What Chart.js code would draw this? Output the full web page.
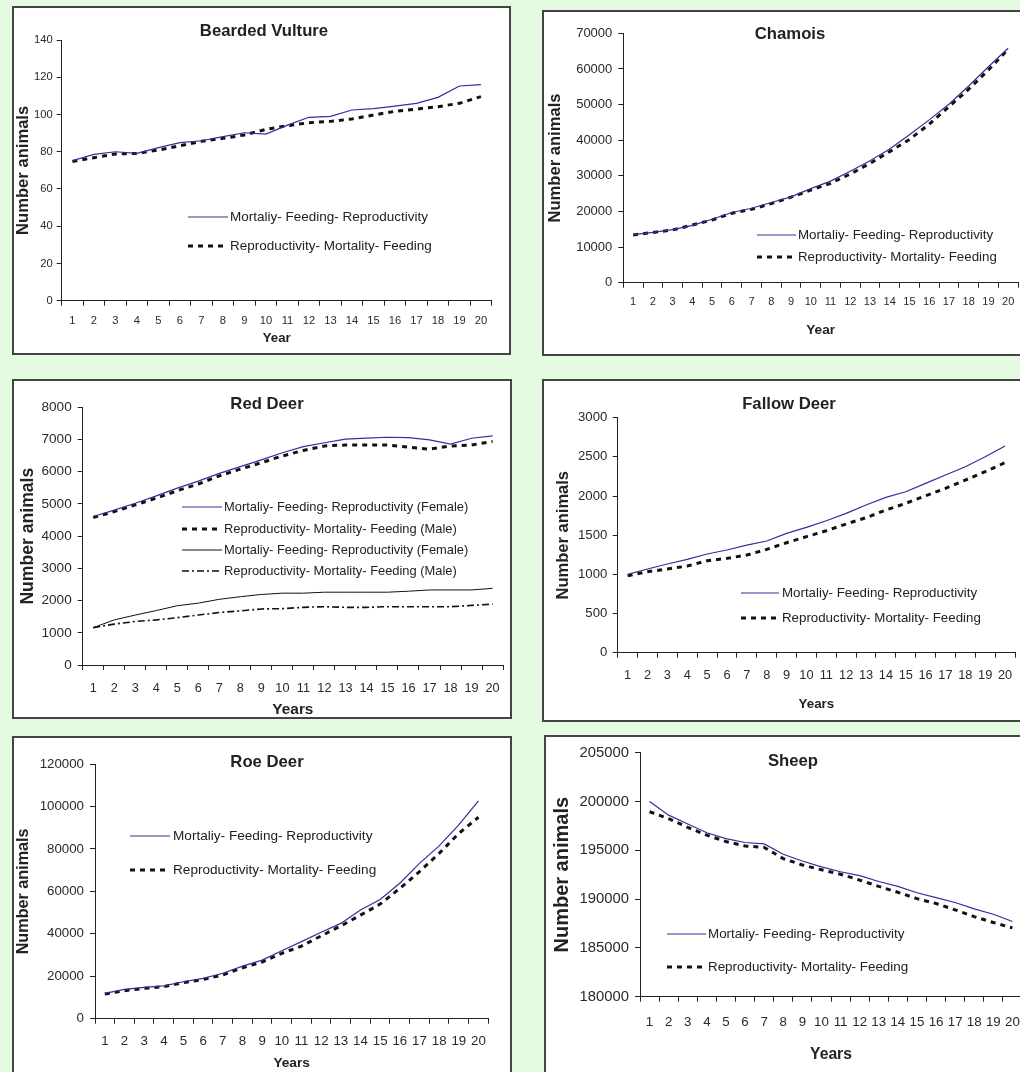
<!DOCTYPE html>
<html>
<head>
<meta charset="utf-8">
<script src="https://cdn.jsdelivr.net/npm/chart.js@4.4.1/dist/chart.umd.min.js"></script>
<style>
  html, body { margin: 0; padding: 0; width: 1020px; height: 1072px; overflow: hidden; background: #e4fbe2; }
  .frame { position: absolute; background: #fff; border: 2px solid #444; box-sizing: border-box; }
  .frame canvas { position: absolute; left: 0; top: 0; }
</style>
</head>
<body>
<script>
// ---- data ----
const years = ['1', '2', '3', '4', '5', '6', '7', '8', '9', '10',
               '11', '12', '13', '14', '15', '16', '17', '18', '19', '20'];

const vultureMfr = [75.2, 78.6, 80.0, 79.1, 82.2, 84.9, 85.9, 88.1, 90.2, 89.5, 94.3, 98.5, 99.0, 102.4, 103.1, 104.5, 106.0, 109.2, 115.3, 116.0];
const vultureRmf = [74.8, 76.8, 78.8, 79.1, 80.9, 83.2, 85.6, 87.2, 89.0, 92.0, 94.0, 95.6, 96.3, 97.6, 99.7, 101.7, 102.9, 104.2, 106.0, 109.6];

const chamoisMfr = [13500, 14100, 14900, 16100, 17800, 19700, 20900, 22500, 24100, 26400, 28500, 31300, 34200, 37500, 41500, 45700, 50100, 55200, 60600, 65800];
const chamoisRmf = [13400, 14100, 14800, 16200, 17600, 19500, 20600, 22200, 24000, 26000, 27900, 30500, 33500, 36800, 40200, 44500, 49400, 54300, 59700, 65500];

const redFemaleMfr = [4610, 4810, 5020, 5250, 5490, 5710, 5950, 6160, 6370, 6590, 6780, 6900, 7010, 7040, 7070, 7060, 6990, 6860, 7040, 7110];
const redMaleRmf = [4580, 4760, 4970, 5180, 5410, 5620, 5870, 6080, 6280, 6490, 6660, 6800, 6830, 6830, 6830, 6760, 6700, 6800, 6830, 6940];
const redFemaleMfr2 = [1160, 1400, 1550, 1690, 1840, 1920, 2040, 2120, 2190, 2230, 2230, 2260, 2260, 2260, 2260, 2290, 2330, 2330, 2330, 2380];
const redMaleRmf2 = [1160, 1270, 1350, 1400, 1470, 1550, 1630, 1680, 1740, 1750, 1790, 1810, 1790, 1790, 1810, 1810, 1810, 1810, 1850, 1890];

const fallowMfr = [1000, 1068, 1132, 1191, 1260, 1311, 1374, 1426, 1523, 1600, 1685, 1779, 1885, 1983, 2055, 2162, 2268, 2374, 2502, 2638];
const fallowRmf = [983, 1034, 1068, 1106, 1174, 1204, 1247, 1319, 1404, 1481, 1557, 1643, 1723, 1821, 1906, 2004, 2098, 2204, 2311, 2426];

const roeMfr = [11900, 13800, 14800, 15500, 17400, 19000, 21400, 24800, 27600, 32000, 36300, 40700, 44900, 51200, 56200, 63800, 73200, 81400, 91300, 102600];
const roeRmf = [11600, 13200, 14300, 15100, 17000, 18500, 20600, 24000, 26700, 30800, 34200, 39000, 43700, 48800, 54000, 61400, 69300, 77900, 87300, 94900];

const sheepMfr = [200000, 198600, 197700, 196800, 196200, 195800, 195650, 194600, 193900, 193300, 192800, 192400, 191800, 191300, 190650, 190150, 189650, 189000, 188450, 187700];
const sheepRmf = [198950, 198250, 197350, 196550, 195900, 195450, 195300, 194150, 193500, 193000, 192550, 191950, 191300, 190700, 190050, 189550, 188900, 188200, 187600, 187050];

const labelMfr = 'Mortaliy- Feeding- Reproductivity';
const labelRmf = 'Reproductivity- Mortality- Feeding';

const FONT = '"Liberation Sans", Arial, Helvetica, sans-serif';
Chart.defaults.font.family = FONT;

// series styles
const blueLine = { borderColor: '#30309a', borderWidth: 1.2 };
const dashLine = { borderColor: '#111', borderWidth: 3, borderDash: [5, 5] };
const thinBlack = { borderColor: '#111', borderWidth: 1 };
const dashDot = { borderColor: '#111', borderWidth: 1.6, borderDash: [7, 3, 2, 3] };

// chart title + legend drawn inside the plot like the original
const panelDecor = {
  id: 'panelDecor',
  afterDraw(chart, args, o) {
    const ctx = chart.ctx;
    ctx.save();
    ctx.fillStyle = '#222';
    ctx.textBaseline = 'middle';
    ctx.textAlign = 'center';
    ctx.font = 'bold ' + o.titleSize + 'px ' + FONT;
    ctx.fillText(o.title, o.titleX, o.titleY);
    ctx.textAlign = 'left';
    ctx.font = o.legendSize + 'px ' + FONT;
    chart.data.datasets.forEach((ds, i) => {
      const y = o.rows[i];
      ctx.beginPath();
      ctx.strokeStyle = ds.borderColor;
      ctx.lineWidth = ds.borderWidth;
      ctx.setLineDash(ds.borderDash || []);
      ctx.moveTo(o.x1, y);
      ctx.lineTo(o.x2, y);
      ctx.stroke();
      ctx.setLineDash([]);
      ctx.fillText(ds.label, o.tx, y);
    });
    ctx.restore();
  }
};

function makePanel(p) {
  const frame = document.createElement('div');
  frame.className = 'frame';
  frame.style.left = p.frame[0] + 'px';
  frame.style.top = p.frame[1] + 'px';
  frame.style.width = p.frame[2] + 'px';
  frame.style.height = p.frame[3] + 'px';
  const canvas = document.createElement('canvas');
  const cw = p.frame[2] - 4, ch = p.frame[3] - 4;
  canvas.width = cw; canvas.height = ch;
  canvas.style.width = cw + 'px'; canvas.style.height = ch + 'px';
  frame.appendChild(canvas);
  document.body.appendChild(frame);

  const ox = p.frame[0] + 2, oy = p.frame[1] + 2;
  const left = p.plot[0] - ox, top = p.plot[1] - oy;
  const right = p.plot[2] - ox, bottom = p.plot[3] - oy;
  const xh = (p.xTitleY - oy) - bottom + p.xTitleSize * 0.6;
  const xPad = (p.xLabelY - oy) - bottom - 5 - p.xTickSize * 0.6;
  const yTitlePad = (p.yTitleX - ox) - p.yTitleSize * 0.6;

  new Chart(canvas, {
    type: 'line',
    data: { labels: years, datasets: p.datasets },
    options: {
      responsive: false,
      animation: false,
      events: [],
      elements: { point: { radius: 0 }, line: { tension: 0, fill: false } },
      layout: { padding: { left: 0, top: top, right: cw - right, bottom: ch - bottom - xh } },
      scales: {
        x: {
          type: 'category',
          offset: true,
          grid: { offset: true, drawOnChartArea: false, drawTicks: true, tickLength: 5, color: '#222' },
          border: { display: true, color: '#222', width: 1 },
          ticks: { autoSkip: false, maxRotation: 0, minRotation: 0, padding: xPad, color: '#2a2a2a',
                   font: { size: p.xTickSize } },
          title: { display: true, text: p.xTitle, color: '#222', padding: 0,
                   font: { size: p.xTitleSize, weight: 'bold' } },
          afterFit: s => { s.height = xh; }
        },
        y: {
          min: p.yMin, max: p.yMax,
          grid: { drawOnChartArea: false, drawTicks: true, tickLength: 5, color: '#222' },
          border: { display: true, color: '#222', width: 1 },
          ticks: { stepSize: p.yStep, padding: p.yTickPad, color: '#2a2a2a', font: { size: p.yTickSize },
                   callback: v => String(v) },
          title: { display: true, text: 'Number animals', color: '#222', padding: { top: yTitlePad, bottom: 0 },
                   font: { size: p.yTitleSize, weight: 'bold' } },
          afterFit: s => { s.width = left; }
        }
      },
      plugins: {
        legend: { display: false },
        tooltip: { enabled: false },
        panelDecor: {
          title: p.title, titleX: p.titleXY[0] - ox, titleY: p.titleXY[1] - oy, titleSize: 16.7,
          legendSize: p.legendSize,
          x1: p.legend[0] - ox, x2: p.legend[1] - ox, tx: p.legend[2] - ox,
          rows: p.legendRows.map(r => r - oy)
        }
      }
    },
    plugins: [panelDecor]
  });
}

makePanel({
  frame: [12, 6, 499, 349], plot: [61.7, 40, 491.7, 300.7],
  title: 'Bearded Vulture', titleXY: [264, 31],
  yMin: 0, yMax: 140, yStep: 20, yTickSize: 11.2, yTickPad: 4,
  xTickSize: 11.2, xLabelY: 320.7, xTitle: 'Year', xTitleSize: 13.2, xTitleY: 338,
  yTitleSize: 16.6, yTitleX: 23,
  legendSize: 13.5, legend: [188, 228, 230], legendRows: [217, 246],
  datasets: [
    Object.assign({ label: labelMfr, data: vultureMfr }, blueLine),
    Object.assign({ label: labelRmf, data: vultureRmf }, dashLine)
  ]
});

makePanel({
  frame: [542, 10, 500, 346], plot: [623.3, 33.3, 1018, 282.7],
  title: 'Chamois', titleXY: [790, 34],
  yMin: 0, yMax: 70000, yStep: 10000, yTickSize: 13, yTickPad: 6,
  xTickSize: 11, xLabelY: 302, xTitle: 'Year', xTitleSize: 13.6, xTitleY: 330,
  yTitleSize: 16.6, yTitleX: 555,
  legendSize: 13.3, legend: [757, 796, 798], legendRows: [235, 257],
  datasets: [
    Object.assign({ label: labelMfr, data: chamoisMfr }, blueLine),
    Object.assign({ label: labelRmf, data: chamoisRmf }, dashLine)
  ]
});

makePanel({
  frame: [12, 379, 500, 340], plot: [82.7, 407.3, 510, 665],
  title: 'Red Deer', titleXY: [267, 404],
  yMin: 0, yMax: 8000, yStep: 1000, yTickSize: 13.6, yTickPad: 6,
  xTickSize: 12.7, xLabelY: 688, xTitle: 'Years', xTitleSize: 15.4, xTitleY: 710,
  yTitleSize: 17.6, yTitleX: 28,
  legendSize: 12.9, legend: [182, 222, 224], legendRows: [507, 529, 550, 571],
  datasets: [
    Object.assign({ label: labelMfr + ' (Female)', data: redFemaleMfr }, blueLine),
    Object.assign({ label: labelRmf + ' (Male)', data: redMaleRmf }, dashLine),
    Object.assign({ label: labelMfr + ' (Female)', data: redFemaleMfr2 }, thinBlack),
    Object.assign({ label: labelRmf + ' (Male)', data: redMaleRmf2 }, dashDot)
  ]
});

makePanel({
  frame: [542, 379, 500, 343], plot: [617.7, 417.7, 1015, 652.7],
  title: 'Fallow Deer', titleXY: [789, 404],
  yMin: 0, yMax: 3000, yStep: 500, yTickSize: 13.2, yTickPad: 5.4,
  xTickSize: 12.8, xLabelY: 675, xTitle: 'Years', xTitleSize: 13.3, xTitleY: 704,
  yTitleSize: 16.5, yTitleX: 563,
  legendSize: 13.3, legend: [741, 779, 782], legendRows: [593, 618],
  datasets: [
    Object.assign({ label: labelMfr, data: fallowMfr }, blueLine),
    Object.assign({ label: labelRmf, data: fallowRmf }, dashLine)
  ]
});

makePanel({
  frame: [12, 736, 500, 400], plot: [95, 764, 488.3, 1018.7],
  title: 'Roe Deer', titleXY: [267, 762],
  yMin: 0, yMax: 120000, yStep: 20000, yTickSize: 13.3, yTickPad: 6,
  xTickSize: 13.3, xLabelY: 1041.7, xTitle: 'Years', xTitleSize: 13.7, xTitleY: 1063,
  yTitleSize: 16.2, yTitleX: 24,
  legendSize: 13.6, legend: [130, 170, 173], legendRows: [836, 870],
  datasets: [
    Object.assign({ label: labelMfr, data: roeMfr }, blueLine),
    Object.assign({ label: labelRmf, data: roeRmf }, dashLine)
  ]
});

makePanel({
  frame: [544, 735, 500, 400], plot: [640, 752.7, 1022, 996.7],
  title: 'Sheep', titleXY: [793, 761],
  yMin: 180000, yMax: 205000, yStep: 5000, yTickSize: 14.8, yTickPad: 6,
  xTickSize: 13.3, xLabelY: 1022.7, xTitle: 'Years', xTitleSize: 15.7, xTitleY: 1055,
  yTitleSize: 20, yTitleX: 562,
  legendSize: 13.4, legend: [667, 706, 708], legendRows: [934, 967],
  datasets: [
    Object.assign({ label: labelMfr, data: sheepMfr }, blueLine),
    Object.assign({ label: labelRmf, data: sheepRmf }, dashLine)
  ]
});
</script>
</body>
</html>
